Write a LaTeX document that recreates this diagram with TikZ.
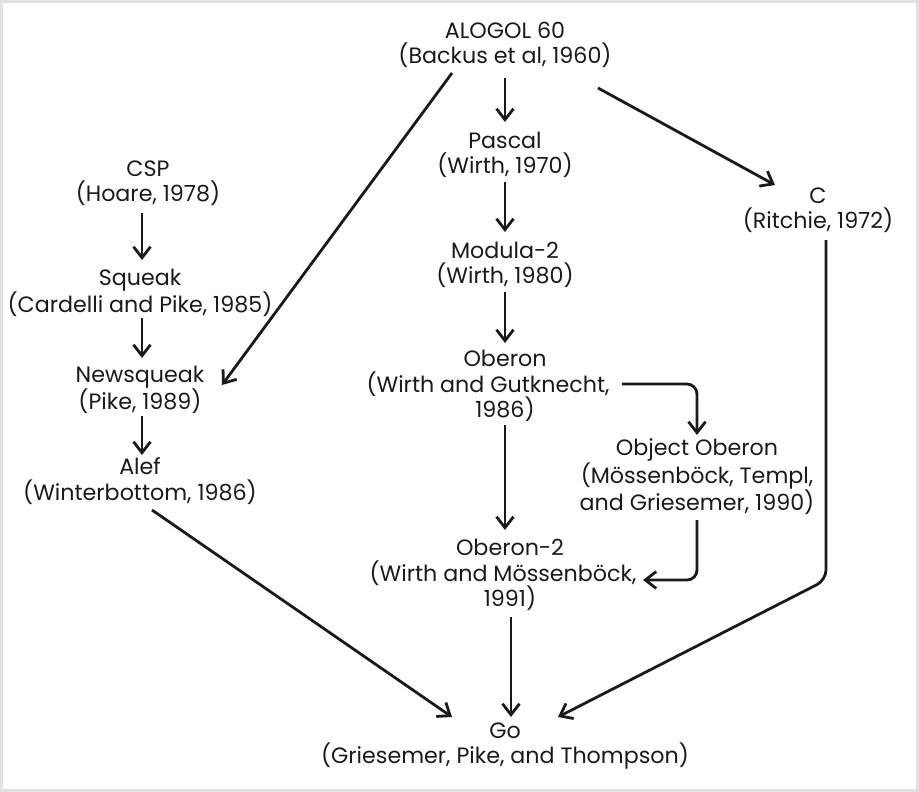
\documentclass[tikz,border=0pt]{standalone}
\usepackage{fontspec}
\setmainfont{Poppins}
\usetikzlibrary{arrows.meta,calc}
\definecolor{ink}{HTML}{1A1A1A}
\definecolor{framec}{HTML}{E2E2E2}
\begin{document}
\begin{tikzpicture}[x=1pt,y=-1pt,
  lbl/.style={align=center,font=\fontsize{22.2}{25.5}\selectfont,text=ink,inner sep=0pt},
  conn/.style={draw=ink,line width=2.8pt,-{Straight Barb[length=11pt,width=17pt,line width=2.8pt]}}]
\useasboundingbox (0,0) rectangle (919,792);
\draw[framec,line width=3pt] (1.5,1.5) rectangle (917.5,790.5);

\node[lbl] (alg)    at (505,45)  {ALOGOL 60\\(Backus et al, 1960)};
\node[lbl] (pascal) at (505,155) {Pascal\\(Wirth, 1970)};
\node[lbl] (modula) at (505,265) {Modula-2\\(Wirth, 1980)};
\node[lbl] (oberon) at (505,386) {Oberon\\(Wirth and Gutknecht,\rule{34pt}{0pt}\\1986)};
\node[lbl] (ob2)    at (510,575) {Oberon-2\\(Wirth and Mössenböck,\rule{14pt}{0pt}\\1991)};
\node[lbl] (go)     at (505,746) {Go\\(Griesemer, Pike, and Thompson)};
\node[lbl] (csp)    at (148,183) {CSP\\(Hoare, 1978)};
\node[lbl] (squeak) at (140,293) {Squeak\\(Cardelli and Pike, 1985)};
\node[lbl] (newsq)  at (140,390) {Newsqueak\\(Pike, 1989)};
\node[lbl] (alef)   at (140,481) {Alef\\(Winterbottom, 1986)};
\node[lbl] (c)      at (818,210) {C\\(Ritchie, 1972)};
\node[lbl] (objob)  at (697,477) {Object Oberon\\(Mössenböck, Templ,\\and Griesemer, 1990)};

\draw[conn] ($(alg)+(0,33)$) -- ($(pascal)+(0,-33)$);
\draw[conn] ($(alg)+(-53,28)$) -- ($(newsq)+(82,-5)$);
\draw[conn] ($(alg)+(93,43)$) -- ($(c)+(-43,-25)$);
\draw[conn] ($(pascal)+(0,27)$) -- ($(modula)+(0,-33)$);
\draw[conn] ($(modula)+(0,27)$) -- ($(oberon)+(0,-43)$);
\draw[conn] ($(oberon)+(0,39)$) -- ($(ob2)+(-5,-45)$);
\draw[conn,rounded corners=10pt] ($(oberon)+(117,-2)$) -| ($(objob)+(0,-42)$);
\draw[conn,rounded corners=10pt] ($(objob)+(0,43)$) |- ($(ob2)+(133,5)$);
\draw[conn] ($(ob2)+(1,42)$) -- ($(go)+(6,-29)$);
\draw[conn] ($(csp)+(-6,30)$) -- ($(squeak)+(2,-33)$);
\draw[conn] ($(squeak)+(2,25)$) -- ($(newsq)+(2,-32)$);
\draw[conn] ($(newsq)+(2,26)$) -- ($(alef)+(2,-26)$);
\draw[conn] ($(alef)+(12,29)$) -- ($(go)+(-53,-29)$);
\draw[conn,rounded corners=10pt] ($(c)+(8,30)$) -- ($(c)+(8,370)$) -- ($(go)+(53,-29)$);
\end{tikzpicture}
\end{document}
